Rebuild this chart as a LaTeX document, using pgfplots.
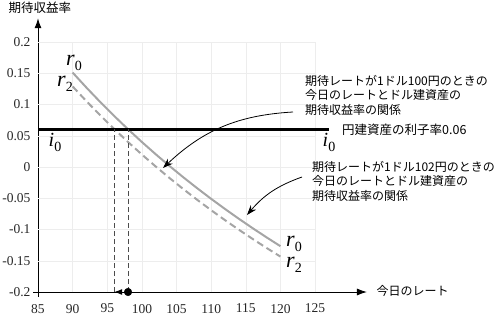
\documentclass[border=0pt]{standalone}
\usepackage{pgfplots}
\pgfplotsset{compat=1.18}
\usepackage{fontspec}
\setmainfont{Liberation Serif}
\newfontfamily\jp{Noto Sans CJK JP}
\usetikzlibrary{arrows.meta}
\definecolor{cg}{RGB}{165,165,165}
\newcommand\rl[1]{{\fontsize{22}{22}\selectfont\itshape r}\raisebox{-5pt}{\fontsize{14}{14}\selectfont #1}}
\newcommand\il[1]{{\fontsize{20}{20}\selectfont\itshape i}\raisebox{-5pt}{\fontsize{14}{14}\selectfont #1}}
\begin{document}
\begin{tikzpicture}
\useasboundingbox (-38pt,-43pt) rectangle (461pt,292pt);
\begin{axis}[
  at={(0pt,0pt)}, anchor=south west,
  x=6.925pt, y=625pt,
  xmin=85, xmax=132.5, ymin=-0.2, ymax=0.238,
  axis lines=left,
  axis line style={line width=0.9pt, -{Latex[length=10pt,width=7pt]}},
  xtick={85,90,95,100,105,110,115,120,125},
  ytick={-0.2,-0.15,-0.1,-0.05,0,0.05,0.1,0.15,0.2},
  yticklabels={-0.2,-0.15,-0.1,-0.05,0,0.05,0.1,0.15,0.2},
  major tick length=0pt,
  tick label style={font=\fontsize{13.5}{14}\selectfont, text=black!85},
  /pgf/number format/assume math mode=true,
  yticklabel style={xshift=-4pt},
  xticklabel style={yshift=-8.5pt},
  clip=false,
]
\pgfplotsinvokeforeach{-0.15,-0.1,-0.05,0,0.05,0.1,0.15,0.2}{\draw[black!7] (axis cs:85,#1) -- (axis cs:125,#1);}
\pgfplotsinvokeforeach{90,95,100,105,110,115,120,125}{\draw[black!7] (axis cs:#1,-0.2) -- (axis cs:#1,0.2);}

% r0: expected rate 100
\addplot[cg, line width=2pt] coordinates {
(90,0.1511)(92,0.12696)(94,0.10383)(96,0.08167)(98,0.06041)(100,0.04)
(102,0.02039)(104,0.00154)(106,-0.0166)(108,-0.03407)(110,-0.05091)
(112,-0.06714)(114,-0.08281)(116,-0.09793)(118,-0.11254)(120,-0.12667)};
% r2
\addplot[cg, line width=2pt, dash pattern=on 7pt off 4pt] coordinates {
(90,0.12889)(92,0.10522)(94,0.08255)(96,0.06083)(98,0.04)(100,0.02)
(102,0.00078)(104,-0.01769)(106,-0.03547)(108,-0.05259)(110,-0.06909)
(112,-0.085)(114,-0.10035)(116,-0.11517)(118,-0.12949)(120,-0.14333)};
% i0
\addplot[black, line width=2.4pt] coordinates {(85,0.06)(127,0.06)};
% dashed verticals
\addplot[black!70, line width=0.8pt, dash pattern=on 5pt off 3pt] coordinates {(96,-0.2)(96,0.06)};
\addplot[black!70, line width=0.8pt, dash pattern=on 5pt off 3pt] coordinates {(98,-0.2)(98,0.06)};
% bottom arrow and dot
\addplot[black, line width=1pt, -{Latex[length=8pt,width=6pt]}] coordinates {(98,-0.2)(96,-0.2)};
\addplot[only marks, mark=*, mark size=3.8pt, black] coordinates {(98,-0.2)};
\end{axis}
% axis overhang
\draw[line width=0.9pt] (0,0) -- (0,-5pt);
\draw[line width=0.9pt] (0,0) -- (-5pt,0);
% annotation arrows
\draw[line width=0.8pt, -{Stealth[length=10pt,width=7pt]}] (255pt,180pt) to[bend right=20] (125pt,124pt);
\draw[line width=0.8pt, -{Stealth[length=10pt,width=7pt]}] (264pt,115pt) to[bend right=15] (209pt,77pt);
% texts
\node[font=\jp\fontsize{12.5}{12.5}\selectfont] at (2pt,284pt) {期待収益率};
\node[font=\jp\fontsize{12}{12}\selectfont] at (374.5pt,1pt) {今日のレート};
\node[font=\jp\fontsize{12.5}{12.5}\selectfont, anchor=west, inner sep=0pt] at (304pt,162pt) {円建資産の利子率0.06};
\node[font=\jp\fontsize{12}{14.5}\selectfont, anchor=west, align=left, inner sep=0pt] at (267pt,197pt) {期待レートが1ドル100円のときの\\今日のレートとドル建資産の\\期待収益率の関係};
\node[font=\jp\fontsize{12}{14.5}\selectfont, anchor=west, align=left, inner sep=0pt] at (274pt,111pt) {期待レートが1ドル102円のときの\\今日のレートとドル建資産の\\期待収益率の関係};
\node at (36pt,229pt) {\rl{0}};
\node at (27pt,208pt) {\rl{2}};
\node at (256pt,48pt) {\rl{0}};
\node at (256pt,27pt) {\rl{2}};
\node at (17pt,150pt) {\il{0}};
\node at (291pt,150pt) {\il{0}};
\end{tikzpicture}
\end{document}
